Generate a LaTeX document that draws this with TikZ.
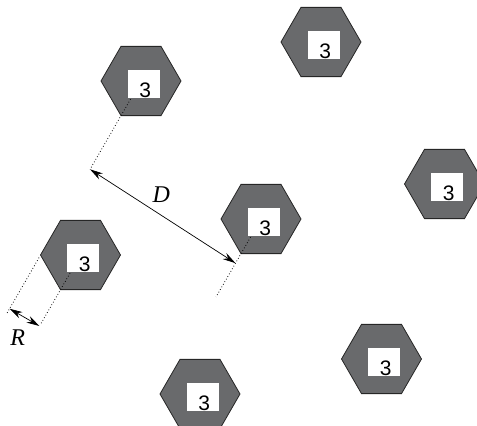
\documentclass[tikz,border=0pt]{standalone}
\usepackage{fontspec}
\setmainfont{Liberation Serif}
\newfontfamily\digitfont{Liberation Sans}
\usetikzlibrary{shapes.geometric,calc,arrows.meta}
\definecolor{cellgray}{RGB}{105,106,108}

\tikzset{
  cell/.style={regular polygon, regular polygon sides=6, minimum size=80pt,
    inner sep=0pt, draw=black!85, line width=0.8pt, fill=cellgray},
  tag/.style={fill=white, inner sep=0pt, minimum width=32pt, minimum height=28pt,
    text height=26pt, text depth=0pt, execute at begin node={\hspace*{3.5pt}},
    font=\digitfont\fontsize{21}{21}\selectfont},
  guide/.style={line width=0.8pt, dash pattern=on 0.8pt off 2.2pt},
  dist/.style={{Stealth[length=13pt,width=7pt]}-{Stealth[length=13pt,width=7pt]}, line width=0.7pt},
  lbl/.style={inner sep=2pt, font=\fontsize{24}{24}\selectfont\itshape}
}

\begin{document}
\begin{tikzpicture}[x=1pt,y=1pt]
\useasboundingbox (0,0) rectangle (477,426);

% cells
\node[cell] (hA) at (141,345) {};
\node[cell] (hB) at (321,384) {};
\node[cell] (hC) at (261,207) {};
\node[cell] (hD) at (444.5,242) {};
\node[cell] (hE) at (80.5,171) {};
\node[cell] (hF) at (381.5,67) {};
\node[cell] (hG) at (200,32) {};

% dotted guides
\coordinate (dA) at ($(hA)+(240:102)$);
\coordinate (dC) at ($(hC)+(240:51)$);
\draw[guide] (hA.center) -- (dA);
\draw[guide] (hC.center) -- ($(hC)+(240:90)$);
\draw[guide] (hE.center) -- ($(hE)+(240:80)$);
\draw[guide] ($(hE)+(150:34.6)+(240:23)$) -- ($(hE)+(150:34.6)+(240:88)$);

% labels in the cells
\node[tag] (tA) at ($(hA)+(2.5,-3.5)$) {3};
\node[tag] (tB) at ($(hB)+(2.5,-3.5)$) {3};
\node[tag] (tC) at ($(hC)+(2.5,-3.5)$) {3};
\node[tag] (tD) at ($(hD)+(2.5,-3.5)$) {3};
\node[tag] (tE) at ($(hE)+(2.5,-3.5)$) {3};
\node[tag] (tF) at ($(hF)+(2.5,-3.5)$) {3};
\node[tag] (tG) at ($(hG)+(2.5,-3.5)$) {3};

% distances
\draw[dist] (dA) -- (dC) node[pos=0.49, above=10pt, lbl] (lD) {D};
\coordinate (rL) at ($(hE)+(150:34.6)+(240:82)$);
\coordinate (rR) at ($(hE)+(240:82)$);
\draw[dist] (rL) -- (rR) node[midway, below=10pt, xshift=-6.7pt, lbl] (lR) {R};

\end{tikzpicture}
\end{document}
